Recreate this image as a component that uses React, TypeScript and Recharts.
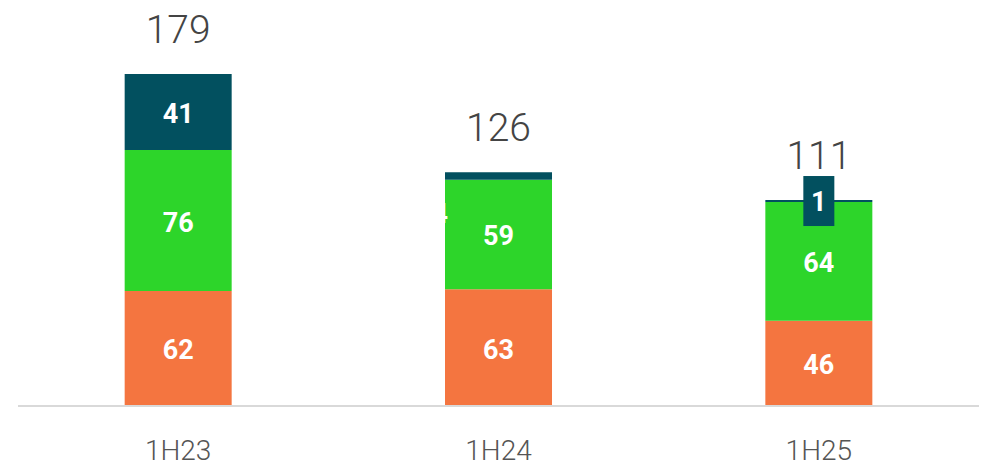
import React from 'react';
import { BarChart, Bar, XAxis, YAxis, LabelList } from 'recharts';

const periods = ['1H23', '1H24', '1H25'];
const orangeValues = [62, 63, 46];
const greenValues = [76, 59, 64];
const tealValues = [41, 4, 1];

const ORANGE = '#F47540';
const GREEN = '#2DD52A';
const TEAL = '#02505F';

const data = periods.map((p, i) => ({
  period: p,
  orange: orangeValues[i],
  green: greenValues[i],
  teal: tealValues[i],
  total: orangeValues[i] + greenValues[i] + tealValues[i],
}));

const innerStyle = {
  fill: '#fff',
  fontSize: 27,
  fontWeight: 700,
  fontFamily: 'Roboto, sans-serif',
};

// centered white value inside a segment
const InnerLabel = (props: any) => {
  const { x, y, width, height, value } = props;
  return (
    <text x={x + width / 2} y={y + height / 2 + 2} textAnchor="middle" dominantBaseline="central" style={innerStyle}>
      {value}
    </text>
  );
};

// label for the thin top segment: inside if room, boxed if tiny, else pushed left
const TealLabel = (props: any) => {
  const { x, y, width, height, value } = props;
  const cx = x + width / 2;
  const cy = y + height / 2;
  if (height >= 30) {
    return <InnerLabel {...props} />;
  }
  if (value <= 1) {
    return (
      <g>
        <rect x={cx - 15.5} y={cy - 25} width={31} height={50} fill={TEAL} />
        <text x={cx} y={cy + 1} textAnchor="middle" dominantBaseline="central" style={innerStyle}>
          {value}
        </text>
      </g>
    );
  }
  return (
    <text x={x + 3} y={y + 42} textAnchor="end" dominantBaseline="central" style={innerStyle}>
      {value}
    </text>
  );
};

const TotalLabel = (props: any) => {
  const { x, y, width, index } = props;
  return (
    <text
      x={x + width / 2}
      y={y - 44}
      textAnchor="middle"
      dominantBaseline="central"
      style={{ fill: '#444', fontSize: 39, fontWeight: 300, fontFamily: 'Roboto, sans-serif' }}
    >
      {data[index].total}
    </text>
  );
};

export default function App() {
  return (
    <div style={{ position: 'absolute', left: 0, top: 0, background: '#fff' }}>
      <BarChart
        width={992}
        height={468}
        data={data}
        margin={{ top: 35, right: 13, left: 18, bottom: 0 }}
        barCategoryGap="33.3%"
      >
        <XAxis
          dataKey="period"
          axisLine={{ stroke: '#D9D9D9', strokeWidth: 2 }}
          tickLine={false}
          height={62}
          tickMargin={28}
          tick={{ fill: '#555', fontSize: 28, fontWeight: 300, fontFamily: 'Roboto, sans-serif' }}
        />
        <YAxis hide domain={[0, 200]} />
        <Bar dataKey="orange" stackId="a" fill={ORANGE} isAnimationActive={false}>
          <LabelList dataKey="orange" content={<InnerLabel />} />
        </Bar>
        <Bar dataKey="green" stackId="a" fill={GREEN} isAnimationActive={false}>
          <LabelList dataKey="green" content={<InnerLabel />} />
        </Bar>
        <Bar dataKey="teal" stackId="a" fill={TEAL} isAnimationActive={false}>
          <LabelList dataKey="teal" content={<TealLabel />} />
          <LabelList dataKey="total" content={<TotalLabel />} />
        </Bar>
      </BarChart>
    </div>
  );
}
